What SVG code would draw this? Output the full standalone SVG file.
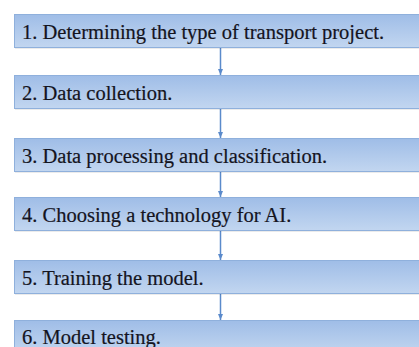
<svg xmlns="http://www.w3.org/2000/svg" width="419" height="347" viewBox="0 0 419 347">
  <defs>
    <linearGradient id="boxFill" x1="0" y1="0" x2="0" y2="1">
      <stop offset="0" stop-color="#9fbde7"/>
      <stop offset="1" stop-color="#c2d6f0"/>
    </linearGradient>
    <marker id="arrowHead" markerWidth="6" markerHeight="5" refX="6" refY="2.5" orient="auto" markerUnits="userSpaceOnUse">
      <path d="M0,0 L6,2.5 L0,5 Z" fill="#5a8acb"/>
    </marker>
  </defs>
  <style>
    .shadow { fill: #000000; opacity: 0.08; }
    .box { fill: url(#boxFill); stroke: #8fb0dc; stroke-width: 1; }
    .label { font-family: "Liberation Serif", "Times New Roman", serif; font-size: 20.5px; fill: #14141e; stroke: #14141e; stroke-width: 0.2; }
    .link { stroke: #5a8acb; stroke-width: 1.5; fill: none; marker-end: url(#arrowHead); }
  </style>
  <rect width="419" height="347" fill="#ffffff"/>

  <g id="connectors">
    <line class="link" x1="220.5" y1="47" x2="220.5" y2="75"/>
    <line class="link" x1="220.5" y1="109" x2="220.5" y2="138"/>
    <line class="link" x1="220.5" y1="172" x2="220.5" y2="197"/>
    <line class="link" x1="220.5" y1="231" x2="220.5" y2="260"/>
    <line class="link" x1="220.5" y1="294" x2="220.5" y2="320"/>
  </g>

  <g id="step1">
    <rect class="shadow" x="15" y="16" width="410" height="33"/>
    <rect class="box" x="14.5" y="14.5" width="410" height="33"/>
    <text class="label" x="22" y="38.5">1. Determining the type of transport project.</text>
  </g>
  <g id="step2">
    <rect class="shadow" x="15" y="77" width="410" height="33"/>
    <rect class="box" x="14.5" y="75.5" width="410" height="33"/>
    <text class="label" x="22" y="100">2. Data collection.</text>
  </g>
  <g id="step3">
    <rect class="shadow" x="15" y="140" width="410" height="33"/>
    <rect class="box" x="14.5" y="138.5" width="410" height="33"/>
    <text class="label" x="22" y="163">3. Data processing and classification.</text>
  </g>
  <g id="step4">
    <rect class="shadow" x="15" y="199" width="410" height="33"/>
    <rect class="box" x="14.5" y="197.5" width="410" height="33"/>
    <text class="label" x="22" y="222">4. Choosing a technology for AI.</text>
  </g>
  <g id="step5">
    <rect class="shadow" x="15" y="262" width="410" height="33"/>
    <rect class="box" x="14.5" y="260.5" width="410" height="33"/>
    <text class="label" x="22" y="285">5. Training the model.</text>
  </g>
  <g id="step6">
    <rect class="shadow" x="15" y="322" width="410" height="33"/>
    <rect class="box" x="14.5" y="320.5" width="410" height="33"/>
    <text class="label" x="22" y="344">6. Model testing.</text>
  </g>
</svg>
